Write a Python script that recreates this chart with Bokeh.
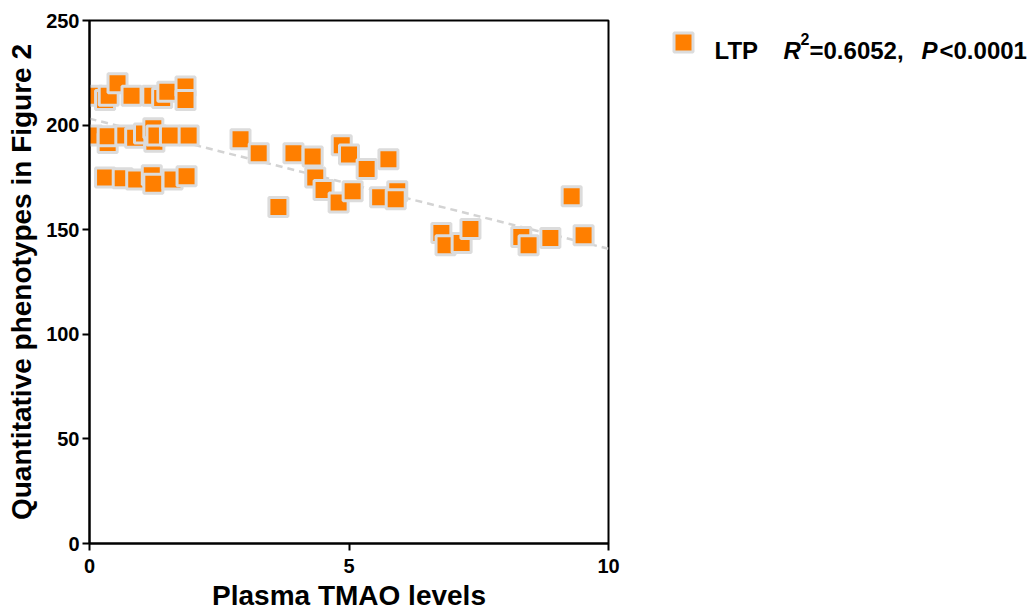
from bokeh.plotting import figure
from bokeh.models import Range1d, FixedTicker
from bokeh.core.properties import value
from bokeh.layouts import row
from bokeh.embed import file_html
from bokeh.resources import INLINE
import numpy as np

# Plasma TMAO level and LTP phenotype for each sample
tmao = [0.06, 0.30, 0.37, 0.54, 0.81, 1.21, 1.40, 1.50, 1.85, 1.85,
        0.05, 0.35, 0.35, 0.69, 0.88, 1.05, 1.25, 1.23, 1.29, 1.55, 1.91,
        0.30, 0.64, 0.90, 1.20, 1.23, 1.60, 1.87,
        2.91, 3.26, 3.64, 3.93, 4.30, 4.35, 4.51, 4.86, 5.00, 5.34, 5.76,
        4.80, 5.07, 5.60, 5.93, 5.90,
        6.78, 6.86, 7.17, 7.34, 8.32, 8.46, 8.88, 9.29, 9.52]
ltp = [214.0, 212.0, 214.0, 220.0, 214.0, 214.0, 213.0, 216.0, 218.5, 212.0,
       195.0, 191.5, 194.7, 195.0, 194.0, 196.0, 192.0, 198.5, 195.0, 195.0, 195.0,
       175.0, 174.6, 174.0, 176.0, 172.0, 174.0, 175.6,
       193.2, 186.5, 160.8, 186.5, 185.0, 175.0, 169.0, 190.4, 186.0, 179.0, 183.7,
       163.0, 168.4, 165.5, 168.4, 164.6,
       148.4, 142.6, 143.6, 150.3, 146.5, 142.6, 146.0, 166.0, 147.4]

x_ticks = [0, 5, 10]
y_ticks = [0, 50, 100, 150, 200, 250]
series_name = "LTP"
r_squared = "0.6052"
p_value = "<0.0001"
x_title = "Plasma TMAO levels"
y_title = "Quantitative phenotypes in Figure 2"

FONT = "Liberation Sans"
ORANGE = "#FF7F00"
GREY = "#DCDCDC"

PAGE_W, PAGE_H = 1036, 613
PLOT_W = 620
BORDER_L, BORDER_T, BORDER_B = 89, 20, 69
FRAME_B = PAGE_H - BORDER_B

p = figure(width=PLOT_W, height=PAGE_H, title=None,
           x_range=Range1d(x_ticks[0], x_ticks[-1]),
           y_range=Range1d(y_ticks[0], y_ticks[-1]),
           output_backend="svg", toolbar_location=None,
           min_border_left=BORDER_L, min_border_right=12,
           min_border_top=BORDER_T, min_border_bottom=BORDER_B)
p.grid.visible = False
p.outline_line_color = "black"
p.outline_line_width = 2

for ax in (p.xaxis, p.yaxis):
    ax.minor_tick_line_color = None
    ax.major_tick_in = 0
    ax.major_tick_out = 7
    ax.major_tick_line_width = 2
    ax.axis_line_width = 2
    ax.major_label_text_font = FONT
    ax.major_label_text_font_style = "bold"
    ax.major_label_text_font_size = "20px"
    ax.major_label_text_color = "black"
    ax.axis_label_text_font = FONT
    ax.axis_label_text_font_style = "bold"
    ax.axis_label_text_font_size = "28px"
    ax.axis_label_text_color = "black"

p.xaxis.ticker = FixedTicker(ticks=x_ticks)
p.yaxis.ticker = FixedTicker(ticks=y_ticks)
p.xaxis.major_label_standoff = 8
p.yaxis.major_label_standoff = 3

p.xaxis.axis_label = x_title
p.xaxis.axis_label_standoff = 4
p.yaxis.axis_label = y_title
p.yaxis.axis_label_standoff = 6

# least-squares trend line
slope, intercept = np.polyfit(tmao, ltp, 1)
fit_x = [x_ticks[0], x_ticks[-1]]
fit_y = [intercept + slope * v for v in fit_x]
p.line(fit_x, fit_y, line_color="#D3D3D3", line_width=2.5, line_dash="7 5")

p.scatter(tmao, ltp, marker="square", size=19, fill_color=ORANGE,
          line_color=GREY, line_width=3)

# key panel to the right of the plot; its frame spans the same rows as the
# plot frame, and its ranges are page pixels
q = figure(width=PAGE_W - PLOT_W, height=PAGE_H, title=None,
           x_range=Range1d(PLOT_W, PAGE_W),
           y_range=Range1d(FRAME_B, BORDER_T),
           output_backend="svg", toolbar_location=None,
           min_border_left=0, min_border_right=0,
           min_border_top=BORDER_T, min_border_bottom=BORDER_B,
           x_axis_type=None, y_axis_type=None)
q.outline_line_color = None
q.grid.visible = False

q.scatter([683], [42], marker="square", size=19, fill_color=ORANGE,
          line_color=GREY, line_width=3)


def key_text(x, y, text, style="bold", size="24px"):
    q.text(x=[x], y=[y], text=[text], text_font=value(FONT),
           text_font_style=style, text_font_size=size,
           text_baseline="alphabetic", text_align="left",
           text_color="black")


key_text(714, 50, series_name)
key_text(783, 50, "R", style="bold italic")
key_text(800, 39, "2", size="16px")
key_text(809, 50, "=" + r_squared + ",")
key_text(921, 50, "P", style="bold italic")
key_text(939, 50, p_value)

layout = row(p, q, spacing=0)
open("out.html", "w").write(file_html(layout, INLINE))
